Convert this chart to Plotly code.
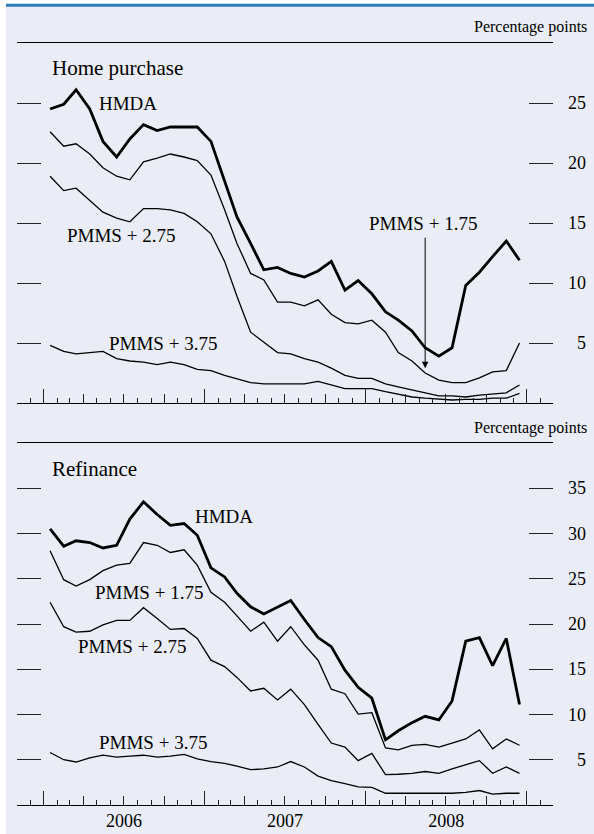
import pandas as pd
import plotly.graph_objects as go

# ---------------- data ----------------
months = pd.date_range("2006-01-01", periods=36, freq="MS") + pd.Timedelta(days=14)

hp_hmda = [24.5, 24.9, 26.1, 24.5, 21.8, 20.5, 22.0, 23.2, 22.7, 23.0, 23.0, 23.0,
           21.8, 18.4, 15.5, 13.3, 11.1, 11.3, 10.8, 10.5, 11.0, 11.8, 9.4, 10.2,
           9.1, 7.6, 6.9, 6.0, 4.6, 3.9, 4.6, 9.8, 10.9, 12.2, 13.5, 11.9]
hp_p175 = [22.6, 21.4, 21.6, 20.75, 19.6, 18.9, 18.6, 20.1, 20.4, 20.75, 20.5, 20.2,
           19.0, 16.1, 13.3, 10.8, 10.25, 8.4, 8.4, 8.1, 8.6, 7.4, 6.7, 6.6,
           6.9, 5.9, 4.2, 3.5, 2.5, 1.9, 1.7, 1.7, 2.1, 2.6, 2.7, 5.0]
hp_p275 = [18.9, 17.7, 17.9, 16.9, 15.9, 15.4, 15.1, 16.2, 16.2, 16.1, 15.8, 15.1,
           14.1, 11.8, 8.9, 5.9, 5.1, 4.2, 4.1, 3.7, 3.4, 2.9, 2.3, 2.05,
           2.05, 1.6, 1.35, 1.1, 0.8, 0.6, 0.6, 0.5, 0.65, 0.75, 0.85, 1.5]
hp_p375 = [4.8, 4.3, 4.1, 4.2, 4.3, 3.7, 3.5, 3.4, 3.2, 3.4, 3.2, 2.8,
           2.7, 2.3, 2.0, 1.7, 1.6, 1.6, 1.6, 1.6, 1.8, 1.5, 1.2, 1.2,
           1.2, 0.95, 0.75, 0.5, 0.4, 0.3, 0.25, 0.3, 0.3, 0.4, 0.4, 0.8]

rf_hmda = [30.5, 28.6, 29.2, 29.0, 28.4, 28.7, 31.6, 33.5, 32.1, 30.9, 31.1, 29.8,
           26.2, 25.2, 23.4, 21.9, 21.1, 21.9, 22.6, 20.5, 18.5, 17.5, 14.9, 13.0,
           11.8, 7.2, 8.2, 9.1, 9.8, 9.4, 11.5, 18.1, 18.5, 15.4, 18.4, 11.1]
rf_p175 = [28.1, 24.9, 24.2, 24.9, 25.9, 26.5, 26.7, 29.0, 28.7, 27.9, 28.2, 26.5,
           23.5, 22.4, 20.9, 19.2, 20.2, 18.1, 19.7, 17.7, 16.0, 12.8, 12.3, 10.05,
           10.2, 6.3, 6.1, 6.6, 6.7, 6.4, 6.85, 7.3, 8.3, 6.2, 7.3, 6.6]
rf_p275 = [22.4, 19.7, 19.1, 19.2, 19.9, 20.4, 20.4, 21.8, 20.6, 19.4, 19.5, 18.4,
           16.0, 15.3, 14.1, 12.6, 12.9, 11.6, 12.8, 11.1, 8.9, 6.85, 6.4, 4.9,
           5.7, 3.35, 3.4, 3.5, 3.7, 3.5, 4.0, 4.45, 4.9, 3.5, 4.2, 3.5]
rf_p375 = [5.8, 5.0, 4.75, 5.2, 5.5, 5.3, 5.4, 5.5, 5.3, 5.4, 5.6, 5.1,
           4.8, 4.6, 4.3, 3.9, 4.0, 4.2, 4.8, 4.2, 3.2, 2.7, 2.35, 2.0,
           1.95, 1.3, 1.3, 1.3, 1.3, 1.3, 1.3, 1.4, 1.6, 1.2, 1.3, 1.3]

hp_ticks = [5, 10, 15, 20, 25]
rf_ticks = [5, 10, 15, 20, 25, 30, 35]
year_labels = ["2006", "2007", "2008"]
year_label_pos = ["2006-07-02", "2007-07-02", "2008-07-02"]

# ---------------- layout helpers ----------------
W, H = 594, 834
def fx(p): return p / W
def fy(p): return 1 - p / H

FONT = "Liberation Serif, Times New Roman, serif"
BG = "#EAEDF5"
XR = ["2005-11-01", "2009-03-01"]
month_ticks = list(pd.date_range("2005-11-01", "2009-03-01", freq="MS"))
quarter_ticks = list(pd.date_range("2006-01-01", "2009-01-01", freq="QS"))
year_ticks = [pd.Timestamp("2005-11-01")] + list(pd.date_range("2006-01-01", "2009-01-01", freq="YS")) + [pd.Timestamp("2009-03-01")]

xdom = [fx(17), fx(553)]
top_dom = [fy(403), fy(43)]
bot_dom = [fy(805), fy(443)]

fig = go.Figure()

def add(series, xa, ya, width):
    fig.add_trace(go.Scatter(x=months, y=series, mode="lines", xaxis=xa, yaxis=ya,
                             line=dict(color="black", width=width), showlegend=False,
                             hoverinfo="skip"))

def dummy(xa, ya):
    # invisible trace so that overlay axes get drawn
    fig.add_trace(go.Scatter(x=[months[0]], y=[1], mode="markers", xaxis=xa, yaxis=ya,
                             marker=dict(opacity=0), showlegend=False, hoverinfo="skip"))

add(hp_p375, "x", "y", 1.3)
add(hp_p275, "x", "y", 1.3)
add(hp_p175, "x", "y", 1.3)
add(hp_hmda, "x", "y", 2.8)
add(rf_p375, "x2", "y2", 1.3)
add(rf_p275, "x2", "y2", 1.3)
add(rf_p175, "x2", "y2", 1.3)
add(rf_hmda, "x2", "y2", 2.8)
dummy("x3", "y"); dummy("x5", "y")
dummy("x4", "y2"); dummy("x6", "y2"); dummy("x7", "y2")

def xbase(anchor, **kw):
    d = dict(domain=xdom, range=XR, type="date", anchor=anchor, showgrid=False,
             zeroline=False, showticklabels=False, ticks="inside",
             tickcolor="#222", tickwidth=1, tickmode="array")
    d.update(kw)
    return d

layout = dict(
    width=W, height=H, margin=dict(l=0, r=0, t=0, b=0),
    paper_bgcolor="white", plot_bgcolor="rgba(0,0,0,0)",
    font=dict(family=FONT, color="black"),
    # monthly ticks + frame lines
    xaxis=xbase("y", tickvals=month_ticks, ticklen=5, showline=True, mirror=True,
                linecolor="black", linewidth=1),
    xaxis2=xbase("y2", tickvals=month_ticks, ticklen=5, showline=True, mirror=True,
                 linecolor="black", linewidth=1),
    # quarterly ticks
    xaxis3=xbase("y", overlaying="x", tickvals=quarter_ticks, ticklen=9),
    xaxis4=xbase("y2", overlaying="x2", tickvals=quarter_ticks, ticklen=9),
    # yearly ticks
    xaxis5=xbase("y", overlaying="x", tickvals=year_ticks, ticklen=14),
    xaxis6=xbase("y2", overlaying="x2", tickvals=year_ticks, ticklen=14),
    # year labels
    xaxis7=xbase("y2", overlaying="x2", tickvals=year_label_pos, ticktext=year_labels,
                 ticks="", showticklabels=True, ticklabelstandoff=3,
                 tickfont=dict(size=18, family=FONT)),
    yaxis=dict(domain=top_dom, range=[0, 30], anchor="x", side="right",
               tickmode="array", tickvals=hp_ticks, ticks="inside", ticklen=24, mirror="ticks",
               tickcolor="#222", tickwidth=1, showticklabels=False,
               showgrid=False, zeroline=False, showline=False),
    yaxis2=dict(domain=bot_dom, range=[0, 40], anchor="x2", side="right",
                tickmode="array", tickvals=rf_ticks, ticks="inside", ticklen=24, mirror="ticks",
                tickcolor="#222", tickwidth=1, showticklabels=False,
                showgrid=False, zeroline=False, showline=False),
)
fig.update_layout(**layout)

# right-aligned value labels for the y ticks
for yref, vals in (("y", hp_ticks), ("y2", rf_ticks)):
    for v in vals:
        fig.add_annotation(text=str(v), xref="paper", yref=yref, x=fx(588), y=v,
                           xanchor="right", yanchor="middle", showarrow=False,
                           font=dict(size=18, family=FONT, color="black"))

# background and top rule
fig.add_shape(type="rect", xref="paper", yref="paper", x0=fx(6), x1=1, y0=0, y1=fy(6.5),
              fillcolor=BG, line=dict(width=0), layer="below")
fig.add_shape(type="line", xref="paper", yref="paper", x0=fx(6), x1=1, y0=fy(5.3), y1=fy(5.3),
              line=dict(color="#2B7BBA", width=3))

def txt(text, x, y, size, anchor="left"):
    fig.add_annotation(text=text, xref="paper", yref="paper", x=fx(x), y=fy(y),
                       xanchor=anchor, yanchor="middle", showarrow=False,
                       font=dict(size=size, family=FONT, color="black"))

txt("Percentage points", 589, 27, 16, "right")
txt("Percentage points", 589, 428, 16, "right")
txt("Home purchase", 50, 68, 21)
txt("Refinance", 50, 469, 21)
txt("HMDA", 97, 103, 19)
txt("PMMS + 2.75", 65, 235, 19)
txt("PMMS + 3.75", 107, 343, 19)
txt("PMMS + 1.75", 367, 223, 19)
txt("HMDA", 193, 516, 19)
txt("PMMS + 1.75", 93, 592, 19)
txt("PMMS + 2.75", 76, 646, 19)
txt("PMMS + 3.75", 97, 742, 19)

# arrow pointing at PMMS + 1.75 in home purchase panel
fig.add_annotation(text="", xref="x", yref="y", x=months[28], y=2.9, ax=0, ay=-132,
                   showarrow=True, arrowhead=2, arrowsize=1.3, arrowwidth=1,
                   arrowcolor="black", standoff=0)

fig.write_html("out.html", config={"displayModeBar": False},
               post_script="document.body.style.margin='0';document.body.style.padding='0';")
